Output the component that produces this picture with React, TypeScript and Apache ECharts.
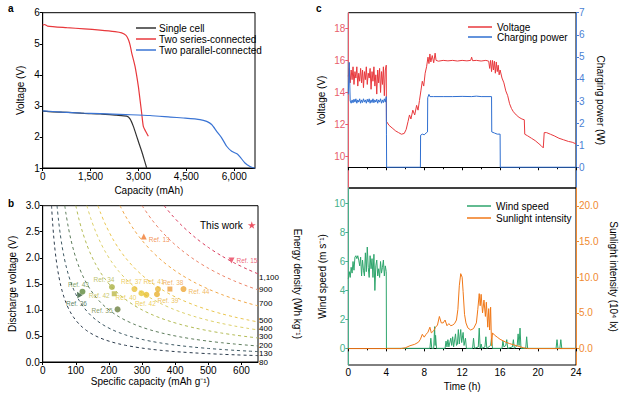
import React, { useEffect, useRef } from "react";
import * as echarts from "echarts";

const FONT = "'Liberation Sans', Arial, Helvetica, sans-serif";

// ---------- Panel a: discharge curves (capacity mAh, voltage V)
const singleCell: [number, number][] = [
  [0, 2.83], [300, 2.81], [800, 2.79], [1300, 2.76], [1800, 2.74], [2300, 2.7], [2630, 2.67],
  [2735, 2.58], [2840, 2.34], [2944, 2.02], [3020, 1.78], [3100, 1.54], [3180, 1.27], [3257, 1.0],
];
const seriesConnected: [number, number][] = [
  [0, 5.6], [60, 5.62], [150, 5.57], [750, 5.52], [1300, 5.48], [1795, 5.44], [2265, 5.39],
  [2474, 5.35], [2610, 5.27], [2683, 5.14], [2740, 4.95], [2787, 4.71], [2891, 4.28], [2996, 3.63],
  [3048, 3.2], [3100, 2.77], [3152, 2.34], [3225, 2.18], [3309, 2.02],
];
const parallelConnected: [number, number][] = [
  [0, 2.84], [600, 2.8], [1200, 2.77], [1795, 2.75], [2600, 2.72], [3361, 2.69], [4000, 2.64],
  [4405, 2.61], [4927, 2.56], [5136, 2.5], [5292, 2.4], [5449, 2.18], [5605, 1.97], [5762, 1.7],
  [5919, 1.54], [6096, 1.45], [6180, 1.36], [6336, 1.16], [6493, 1.05], [6650, 0.99],
];

// ---------- Panel b: iso-energy curves and literature points
const energyLevels = [80, 130, 200, 300, 400, 500, 700, 900, 1100];
const energyLabels = ["80", "130", "200", "300", "400", "500", "700", "900", "1,100"];
const capacityGrid = [
  20, 24, 27, 30, 33, 36, 40, 44, 48, 53, 58, 64, 70, 77, 85, 93, 100, 110, 120, 133, 145, 160,
  175, 190, 210, 230, 250, 275, 300, 330, 360, 390, 420, 460, 500, 540, 580, 620, 650,
];
const refNames = ["Ref. 13", "Ref. 15", "Ref. 43", "Ref. 36", "Ref. 34", "Ref. 42", "Ref. 37",
  "Ref. 40", "Ref. 42", "Ref. 41", "Ref. 39", "Ref. 38", "Ref. 44", "Ref. 35"];
const refCapacity = [305, 570, 120, 108, 209, 216, 277, 298, 313, 348, 345, 384, 425, 226];
const refVoltage = [2.41, 1.95, 1.35, 1.3, 1.44, 1.31, 1.4, 1.32, 1.29, 1.4, 1.3, 1.4, 1.4, 1.01];

// ---------- Panel c: outdoor charging (time h)
const voltageFirst4h = [15.0, 15.5, 14.6, 15.4, 14.8, 15.6, 14.5, 15.3, 14.9, 15.6, 14.4, 15.2, 14.7,
  15.5, 14.6, 15.4, 14.3, 15.3, 14.8, 15.6, 14.5, 15.2, 14.9, 15.5, 14.2, 15.3, 14.7, 15.6, 14.4,
  15.1, 13.9, 15.4, 14.6, 15.5, 14.0, 15.3, 14.5, 15.6, 13.8, 15.4, 15.7];
const voltageRest: [number, number][] = [
  [4.02, 12.2], [4.3, 11.95], [4.7, 11.75], [5.0, 11.6], [5.3, 11.5], [5.6, 11.4], [5.9, 11.45],
  [6.1, 11.7], [6.3, 12.2], [6.45, 12.6], [6.6, 12.35], [6.8, 12.9], [7.0, 12.6], [7.2, 13.2],
  [7.35, 12.9], [7.5, 13.5], [7.65, 14.1], [7.8, 14.7], [7.95, 14.4], [8.1, 15.2], [8.25, 15.6],
  [8.4, 16.2], [8.5, 15.8], [8.6, 16.4], [8.7, 15.9], [8.85, 16.3], [9.0, 15.85], [9.15, 16.45],
  [9.25, 16.0], [9.5, 15.95], [10.0, 16.0], [10.5, 15.97], [11.0, 16.0], [11.5, 15.96], [12.0, 16.0],
  [12.5, 15.97], [12.9, 16.0], [13.0, 16.2], [13.1, 15.98], [13.5, 16.0], [14.0, 15.96], [14.5, 16.0],
  [14.8, 15.95], [14.9, 15.5], [15.0, 16.0], [15.1, 15.3], [15.2, 16.0], [15.3, 15.4], [15.4, 15.95],
  [15.5, 15.2], [15.6, 15.9], [15.7, 15.3], [15.8, 15.7], [15.9, 15.1], [16.0, 15.4], [16.2, 14.9],
  [16.4, 14.6], [16.6, 14.1], [16.8, 13.8], [17.0, 13.3], [17.2, 13.0], [17.4, 12.8], [17.7, 12.6],
  [18.0, 12.45], [18.3, 12.35], [18.55, 12.3], [18.6, 11.4], [18.9, 11.3], [19.3, 11.15],
  [19.7, 11.0], [20.0, 10.85], [20.3, 10.7], [20.55, 10.55], [20.65, 11.5], [20.9, 11.5],
  [21.3, 11.4], [21.7, 11.3], [22.2, 11.15], [22.7, 11.05], [23.2, 10.95], [23.6, 10.9], [24, 10.8],
];
const powerFirst4h = [3.3, 4.75, 3.0, 2.9, 3.05, 2.92, 3.08, 2.95, 3.1, 2.9, 3.05, 2.95, 3.1, 2.9,
  3.05, 2.93, 3.1, 2.95, 3.05, 2.9, 3.08, 2.95, 3.1, 2.9, 3.05, 2.93, 3.1, 2.92, 3.05, 2.95, 3.08,
  2.9, 3.05, 2.95, 3.1, 2.9, 3.05, 2.93, 3.1, 2.95, 3.2];
const powerRest: [number, number][] = [
  [4.02, 1.5], [4.04, 0], [7.6, 0], [7.62, 1.45], [7.8, 1.5], [8.0, 1.47], [8.2, 1.55], [8.35, 1.6],
  [8.37, 3.15], [8.5, 3.3], [8.6, 3.2], [9.0, 3.2], [10, 3.2], [11, 3.2], [12, 3.21], [13, 3.2],
  [13.5, 3.22], [14, 3.2], [15.1, 3.2], [15.12, 1.6], [15.4, 1.55], [15.7, 1.5], [16.0, 1.5],
  [16.02, 0], [24, 0],
];
const windFirst4h = [4.8, 5.3, 4.9, 5.6, 5.2, 6.0, 5.4, 6.3, 6.4, 6.2, 6.4, 6.1, 5.7, 6.3, 5.0, 6.1,
  5.4, 5.0, 6.6, 5.3, 7.0, 5.6, 4.9, 6.4, 5.5, 6.2, 4.9, 6.5, 4.0, 5.7, 6.1, 5.0, 5.5, 4.9, 6.0, 5.2,
  5.6, 6.1, 5.0, 5.7, 5.3];
const windRest: [number, number][] = [
  [4.02, 0], [8.6, 0], [8.7, 0.7], [8.8, 0], [9.0, 0], [9.1, 1.5], [9.15, 0.2], [9.2, 0.9], [9.3, 0],
  [10.2, 0], [10.3, 0.5], [10.4, 0.1], [10.5, 0.6], [10.6, 0.1], [10.8, 0.7], [10.9, 0.2], [11.0, 0.8],
  [11.1, 0.1], [11.3, 1.0], [11.4, 0.2], [11.5, 0.3], [11.6, 1.3], [11.7, 0.3], [11.85, 1.3],
  [11.95, 0.4], [12.1, 1.1], [12.2, 0.2], [12.35, 0.7], [12.45, 0], [13.1, 0], [13.2, 0.7], [13.3, 0],
  [13.7, 0.1], [13.8, 1.4], [13.9, 0], [14.0, 0.3], [14.1, 0], [14.4, 0.1], [14.5, 0.8], [14.6, 0],
  [15.0, 0.2], [15.1, 0.7], [15.2, 0], [16.2, 0], [16.3, 0.5], [16.4, 0.1], [16.6, 0.2], [16.7, 0.6],
  [16.8, 0], [17.3, 0.1], [17.4, 0.6], [17.5, 0], [17.8, 0.2], [17.9, 1.0], [18.0, 0.2], [18.1, 1.4],
  [18.2, 0], [18.7, 0], [18.8, 0.8], [18.9, 0], [21.9, 0], [22.0, 0.6], [22.1, 0], [22.3, 0],
  [22.4, 0.6], [22.5, 0], [24, 0],
];
const sunlight: [number, number][] = [
  [0, 0], [5.5, 0], [6.0, 0.1], [6.5, 0.4], [7.0, 0.6], [7.4, 0.9], [7.6, 1.3], [7.8, 2.0], [8.0, 1.6],
  [8.2, 2.0], [8.4, 2.3], [8.6, 3.0], [8.75, 2.2], [9.0, 2.5], [9.2, 3.0], [9.4, 3.3], [9.6, 4.5],
  [9.8, 3.6], [10.0, 3.6], [10.2, 4.0], [10.4, 3.2], [10.6, 3.5], [10.8, 3.2], [11.0, 3.3], [11.2, 3.5],
  [11.4, 4.0], [11.55, 5.5], [11.7, 8.8], [11.85, 10.5], [12.0, 10.0], [12.1, 8.0], [12.25, 4.8],
  [12.4, 3.6], [12.6, 2.9], [12.9, 2.6], [13.2, 2.8], [13.5, 3.6], [13.65, 5.5], [13.8, 7.7],
  [13.9, 6.0], [14.0, 7.6], [14.15, 5.0], [14.3, 6.8], [14.45, 4.5], [14.55, 6.5], [14.7, 3.0],
  [14.8, 5.6], [14.9, 2.6], [15.0, 5.8], [15.1, 0.4], [15.2, 2.2], [15.4, 1.9], [15.7, 1.6],
  [16.0, 1.3], [16.3, 1.1], [16.6, 0.9], [17.0, 0.7], [17.5, 0.5], [18.0, 0.3], [18.5, 0.1],
  [19.0, 0], [24, 0],
];
const sampleStepH = 0.1;

// ---------- styles
const energyColors = ["#2b3b4c", "#3e5963", "#5e7d5c", "#b3bb55", "#ddd06a", "#eac650", "#f0a748", "#ec8468", "#d93d5e"];
const energyLabelOffsets: [number, number][] = [[-2, 6.9], [-2, 2.4], [-2, -0.5], [-2, -1], [-2, -1.5], [-2, -1.9], [-2, -1.9], [-2, 0], [-2, 3.2]];
const refColors = ["#f07a30", "#e8405a", "#5f8a3c", "#2f5a36", "#aab044", "#bdb848", "#e9c23e",
  "#e8c838", "#e8bf30", "#e8b83a", "#e8b030", "#eea040", "#eea838", "#6b8040"];
const refSymbols = ["triangle", "triangle", "circle", "triangle", "circle", "rect", "circle",
  "circle", "circle", "circle", "circle", "rect", "circle", "circle"];
const refRotate = [0, 180, 0, 30, 0, 0, 0, 0, 0, 0, 0, 0, 0, 0];
const refLabelPos = ["right", "right", "top", "bottom", "top", "left", "top", "left", "bottom",
  "top", "bottom", "top", "right", "left"];
const refLabelOffset: [number, number][] = [[0, 3], [0, 0], [-4, 1], [-2, 0], [-8, 1], [0, 2],
  [-3, 1], [0, 4], [-1, 0], [-4, 1], [11, -2], [3, 1], [0, 2], [0, 1]];

const STAR = "path://M50,0 L61,35 L98,35 L68,57 L79,91 L50,70 L21,91 L32,57 L2,35 L39,35 Z";

const C_VOLT = "#e8393d", C_VOLT_AX = "#e85d6c";
const C_POW = "#2f6fd0", C_POW_AX = "#4a7fd4";
const C_WIND = "#2ea56c", C_WIND_AX = "#46b08a";
const C_SUN = "#f07818", C_SUN_AX = "#f08a30";

function baseAxis(color = "#000") {
  return {
    axisLine: { show: true, lineStyle: { color, width: 1 } },
    axisTick: { show: true, inside: false, length: 3, lineStyle: { color } },
    splitLine: { show: false },
    axisLabel: { color, fontSize: 10, margin: 3, fontFamily: FONT },
    nameLocation: "middle" as const,
    nameTextStyle: { color: "#000", fontSize: 10, fontFamily: FONT },
    nameMoveOverlap: false,
  };
}

function buildOption() {
  const comma = (v: number) => v.toLocaleString("en-US");

  const isoSeries = energyLevels.map((e, i) => {
    const pts: [number, number][] = [[e / 3, 3]];
    capacityGrid.forEach((c) => { if (c > e / 3) pts.push([c, e / c]); });
    return {
      type: "line", name: "E" + e, xAxisIndex: 1, yAxisIndex: 1, data: pts, smooth: 0.3,
      showSymbol: false, silent: true, clip: true,
      lineStyle: { color: energyColors[i], width: 1, type: [3, 3] },
      endLabel: {
        show: true, formatter: () => energyLabels[i], color: "#000", fontSize: 8,
        lineHeight: 8, fontFamily: FONT, distance: 3, offset: energyLabelOffsets[i],
      },
    };
  });

  const refData = refNames.map((n, i) => ({
    value: [refCapacity[i], refVoltage[i]],
    name: n,
    symbol: refSymbols[i],
    symbolRotate: refRotate[i],
    symbolSize: refSymbols[i] === "rect" ? 5 : 6,
    itemStyle: { color: refColors[i] },
    label: {
      show: true, formatter: n, position: refLabelPos[i], offset: refLabelOffset[i],
      color: refColors[i], fontSize: 6.5, fontFamily: FONT, distance: 2,
    },
  }));

  const voltData = [...voltageFirst4h.map((v, i) => [i * sampleStepH, v]), ...voltageRest];
  const powData = [...powerFirst4h.map((v, i) => [i * sampleStepH, v]), ...powerRest];
  const windData = [...windFirst4h.map((v, i) => [i * sampleStepH, v]), ...windRest];

  return {
    animation: false,
    textStyle: { fontFamily: FONT },
    graphic: [
      { type: "text", left: 8, top: 3, style: { text: "a", font: `bold 10px ${FONT}`, fill: "#000" } },
      { type: "text", left: 8, top: 198, style: { text: "b", font: `bold 10px ${FONT}`, fill: "#000" } },
      { type: "text", left: 316, top: 3, style: { text: "c", font: `bold 10px ${FONT}`, fill: "#000" } },
    ],
    legend: [
      {
        data: ["Single cell", "Two series-connected", "Two parallel-connected"],
        left: 131, top: 18, orient: "vertical", icon: "rect", itemWidth: 20, itemHeight: 1.5,
        itemGap: 1, textStyle: { fontSize: 10, color: "#000", padding: [0, 0, 0, -2] },
      },
      {
        data: [{ name: "This work", icon: STAR }], left: 195, top: 215, align: "right",
        itemWidth: 8, itemHeight: 8, textStyle: { fontSize: 10, color: "#000" },
      },
      {
        data: ["Voltage", "Charging power"], left: 463, top: 17, orient: "vertical", icon: "rect",
        itemWidth: 24, itemHeight: 1.5, itemGap: 0, textStyle: { fontSize: 10, color: "#000" },
      },
      {
        data: ["Wind speed", "Sunlight intensity"], left: 462, top: 196, orient: "vertical", icon: "rect",
        itemWidth: 24, itemHeight: 1.5, itemGap: 2, textStyle: { fontSize: 10, color: "#000" },
      },
    ],
    grid: [
      { left: 42.7, top: 12.7, width: 212.3, height: 155.3, show: true, borderColor: "#000", borderWidth: 1, backgroundColor: "transparent" },
      { left: 42.7, top: 205.7, width: 215.3, height: 156.3, show: true, borderColor: "#000", borderWidth: 1, backgroundColor: "transparent" },
      { left: 348.3, top: 12.7, width: 227.7, height: 175.3, show: true, borderColor: "#000", borderWidth: 1, backgroundColor: "transparent" },
      { left: 348.3, top: 188, width: 227.7, height: 177, show: true, borderColor: "#000", borderWidth: 1, backgroundColor: "transparent" },
    ],
    xAxis: [
      {
        ...baseAxis(), type: "value", gridIndex: 0, min: 0, max: 6650, interval: 1500,
        axisLabel: { ...baseAxis().axisLabel, formatter: comma, showMaxLabel: false },
        name: "Capacity (mAh)", nameGap: 17,
      },
      {
        ...baseAxis(), type: "value", gridIndex: 1, min: 0, max: 650, interval: 100,
        axisLabel: { ...baseAxis().axisLabel, showMaxLabel: false },
        name: "Specific capacity (mAh g⁻¹)", nameGap: 14,
      },
      {
        ...baseAxis(), type: "value", gridIndex: 2, min: 0, max: 24, interval: 4,
        axisLabel: { show: false },
        minorTick: { show: true, splitNumber: 2, length: 2, lineStyle: { color: "#000" } },
      },
      {
        ...baseAxis(), type: "value", gridIndex: 3, min: 0, max: 24, interval: 4,
        minorTick: { show: true, splitNumber: 2, length: 2, lineStyle: { color: "#000" } },
        axisLabel: { ...baseAxis().axisLabel, margin: 2 },
        name: "Time (h)", nameGap: 16,
      },
    ],
    yAxis: [
      {
        ...baseAxis(), type: "value", gridIndex: 0, min: 1, max: 6, interval: 1,
        name: "Voltage (V)", nameGap: 17,
      },
      {
        ...baseAxis(), type: "value", gridIndex: 1, min: 0, max: 3, interval: 0.5,
        axisLabel: { ...baseAxis().axisLabel, formatter: (v: number) => v.toFixed(1) },
        name: "Discharge voltage (V)", nameGap: 25,
      },
      {
        ...baseAxis(), type: "value", gridIndex: 1, position: "right", min: 0, max: 3,
        axisLine: { show: false }, axisTick: { show: false }, axisLabel: { show: false },
        name: "Energy density (Wh kg⁻¹)", nameGap: 34, nameRotate: -90,
      },
      {
        ...baseAxis(C_VOLT_AX), type: "value", gridIndex: 2, min: 8.05, max: 18.97,
        axisLabel: { ...baseAxis(C_VOLT_AX).axisLabel, customValues: [10, 12, 14, 16, 18] },
        axisTick: { ...baseAxis(C_VOLT_AX).axisTick, customValues: [10, 12, 14, 16, 18] },
        name: "Voltage (V)", nameGap: 22,
      },
      {
        ...baseAxis(C_POW_AX), type: "value", gridIndex: 2, position: "right", min: -0.94, max: 7,
        axisLabel: { ...baseAxis(C_POW_AX).axisLabel, customValues: [0, 1, 2, 3, 4, 5, 6, 7] },
        axisTick: { ...baseAxis(C_POW_AX).axisTick, customValues: [0, 1, 2, 3, 4, 5, 6, 7] },
        name: "Charging power (W)", nameGap: 19, nameRotate: -90,
      },
      {
        ...baseAxis(C_WIND_AX), type: "value", gridIndex: 3, min: -1.15, max: 11.08,
        axisLabel: { ...baseAxis(C_WIND_AX).axisLabel, customValues: [0, 2, 4, 6, 8, 10] },
        axisTick: { ...baseAxis(C_WIND_AX).axisTick, customValues: [0, 2, 4, 6, 8, 10] },
        name: "Wind speed (m s⁻¹)", nameGap: 21,
      },
      {
        ...baseAxis(C_SUN_AX), type: "value", gridIndex: 3, position: "right", min: -2.3, max: 22.5,
        axisLabel: {
          ...baseAxis(C_SUN_AX).axisLabel, customValues: [0, 5, 10, 15, 20],
          formatter: (v: number) => v.toFixed(1),
        },
        axisTick: { ...baseAxis(C_SUN_AX).axisTick, customValues: [0, 5, 10, 15, 20] },
        name: "Sunlight intensity (10⁴ lx)", nameGap: 32, nameRotate: -90,
      },
    ],
    series: [
      { type: "line", name: "Single cell", xAxisIndex: 0, yAxisIndex: 0, data: singleCell, smooth: 0.2, showSymbol: false, lineStyle: { color: "#333", width: 1.2 }, itemStyle: { color: "#333" } },
      { type: "line", name: "Two series-connected", xAxisIndex: 0, yAxisIndex: 0, data: seriesConnected, smooth: 0.2, showSymbol: false, lineStyle: { color: "#e8383c", width: 1.2 }, itemStyle: { color: "#e8383c" } },
      { type: "line", name: "Two parallel-connected", xAxisIndex: 0, yAxisIndex: 0, data: parallelConnected, smooth: 0.2, showSymbol: false, lineStyle: { color: "#3a74d4", width: 1.2 }, itemStyle: { color: "#3a74d4" } },
      ...isoSeries,
      { type: "scatter", name: "Refs", xAxisIndex: 1, yAxisIndex: 1, data: refData, z: 5 },
      { type: "scatter", name: "This work", xAxisIndex: 1, yAxisIndex: 1, data: [], symbol: STAR, itemStyle: { color: "#e8283c" } },
      { type: "line", name: "Voltage", xAxisIndex: 2, yAxisIndex: 3, data: voltData, showSymbol: false, lineStyle: { color: C_VOLT, width: 1 }, itemStyle: { color: C_VOLT } },
      { type: "line", name: "Charging power", xAxisIndex: 2, yAxisIndex: 4, data: powData, showSymbol: false, lineStyle: { color: C_POW, width: 1 }, itemStyle: { color: C_POW } },
      { type: "line", name: "Wind speed", xAxisIndex: 3, yAxisIndex: 5, data: windData, showSymbol: false, lineStyle: { color: C_WIND, width: 1 }, itemStyle: { color: C_WIND } },
      { type: "line", name: "Sunlight intensity", xAxisIndex: 3, yAxisIndex: 6, data: sunlight, showSymbol: false, lineStyle: { color: C_SUN, width: 1 }, itemStyle: { color: C_SUN } },
    ],
  };
}

export default function App() {
  const ref = useRef<HTMLDivElement>(null);
  useEffect(() => {
    document.body.style.margin = "0";
    if (!ref.current) return;
    const chart = echarts.init(ref.current, undefined, { renderer: "svg" });
    chart.setOption(buildOption() as any);
    return () => chart.dispose();
  }, []);
  return (
    <div
      ref={ref}
      style={{ position: "fixed", left: 0, top: 0, width: 626, height: 395, background: "#fff" }}
    />
  );
}
